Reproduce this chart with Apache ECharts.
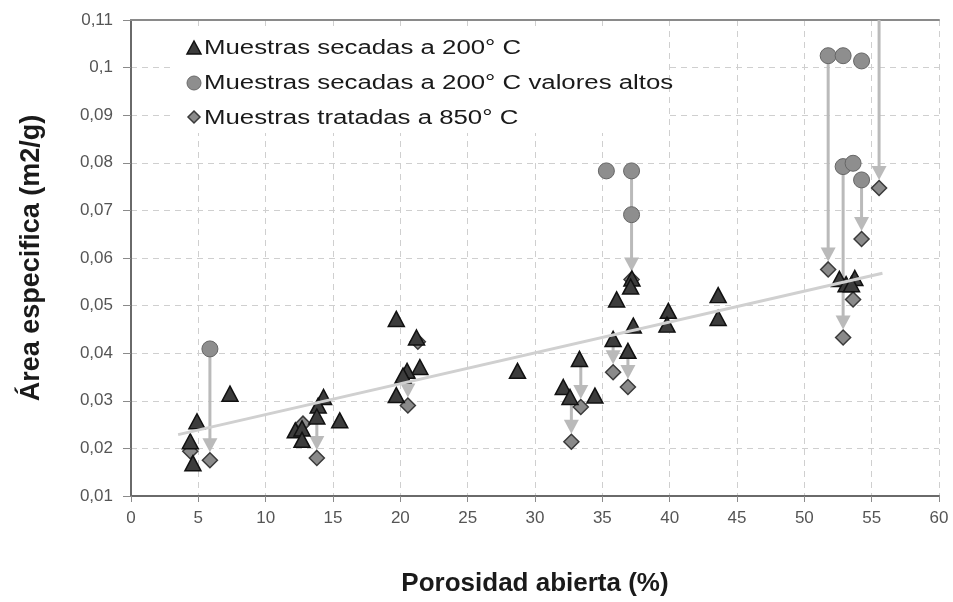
<!DOCTYPE html>
<html>
<head>
<meta charset="utf-8">
<script src="https://cdn.jsdelivr.net/npm/echarts@6/dist/echarts.min.js"></script>
<style>
  html, body { margin: 0; padding: 0; background: #fff; }
  #chart { width: 953px; height: 602px; }
</style>
</head>
<body>
<div id="chart"></div>
<script>
// Muestras secadas a 200 °C
const secadasX = [4.9, 4.4, 4.6, 7.35, 14.3, 13.9, 13.8, 15.5, 12.2, 12.7, 12.7, 19.7, 21.2, 21.45, 20.5, 20.2, 19.7, 28.7, 33.3, 32.1, 32.6, 34.45, 35.8, 37.3, 36.9, 36.06, 37.2, 37.1, 39.9, 39.8, 43.6, 43.6, 52.6, 53.75, 53.1, 53.5];
const secadasY = [0.0257, 0.0215, 0.0169, 0.0315, 0.0308, 0.029, 0.0267, 0.0259, 0.0238, 0.0242, 0.0218, 0.0472, 0.0433, 0.0371, 0.0363, 0.0353, 0.0312, 0.0363, 0.0388, 0.0329, 0.0308, 0.0311, 0.043, 0.0458, 0.0405, 0.0513, 0.0557, 0.054, 0.0489, 0.046, 0.0522, 0.0474, 0.0556, 0.0558, 0.0545, 0.0545];

// Muestras secadas a 200 °C, valores altos
const altosX = [5.86, 35.3, 37.17, 37.17, 51.77, 52.88, 54.25, 52.88, 53.62, 54.25];
const altosY = [0.0409, 0.0783, 0.0783, 0.0691, 0.1025, 0.1025, 0.1014, 0.0792, 0.0799, 0.0764];

// Muestras tratadas a 850 °C
const tratadasX = [4.4, 5.86, 12.77, 13.8, 21.3, 20.56, 33.4, 32.7, 35.8, 36.9, 37.17, 51.77, 52.88, 54.25, 53.62, 55.55];
const tratadasY = [0.0194, 0.0175, 0.0252, 0.018, 0.0424, 0.029, 0.0287, 0.0214, 0.036, 0.0329, 0.0555, 0.0576, 0.0433, 0.064, 0.0513, 0.0747];

// Flechas: paso de la muestra secada a la tratada
const flechaX     = [5.86, 13.8, 20.56, 33.4, 32.7, 35.8, 36.9, 37.17, 51.77, 52.88, 54.25, 55.55];
const flechaDesde = [0.0409, 0.0267, 0.0363, 0.0388, 0.0308, 0.043, 0.0405, 0.0783, 0.1025, 0.0792, 0.0764, 0.11];
const flechaHasta = [0.0175, 0.018, 0.029, 0.0287, 0.0214, 0.036, 0.0329, 0.0555, 0.0576, 0.0433, 0.064, 0.0747];

// Recta de tendencia
const tendenciaX = [3.5, 55.8];
const tendenciaY = [0.0229, 0.0568];

// Ejes
const xMin = 0, xMax = 60, xStep = 5;
const yMin = 0.01, yMax = 0.11, yStep = 0.01;

const legendItems = [
  'Muestras secadas a 200° C',
  'Muestras secadas a 200° C valores altos',
  'Muestras tratadas a 850° C'
];

const zip = (xs, ys) => xs.map((x, i) => [x, ys[i]]);
const flechas = flechaX.map((x, i) => [x, flechaDesde[i], flechaHasta[i]]);

const chart = echarts.init(document.getElementById('chart'), null, { renderer: 'canvas' });

const arrowColor = '#bababa';
const gridDash = { color: '#cfcfcf', width: 1, type: [6, 5] };

const option = {
  animation: false,
  backgroundColor: '#fff',
  grid: { left: 131, right: 14, top: 20, bottom: 104 },
  xAxis: [{
    type: 'value', min: xMin, max: xMax, interval: xStep,
    name: 'Porosidad abierta (%)', nameLocation: 'middle', nameGap: 75,
    nameTextStyle: { fontFamily: 'Liberation Sans', fontWeight: 'bold', fontSize: 26, color: '#1a1a1a' },
    axisLine: { show: true, lineStyle: { color: '#6a6a6a', width: 2 } },
    axisTick: { show: true, length: 6, lineStyle: { color: '#8a8a8a' } },
    axisLabel: { margin: 14, fontFamily: 'Liberation Sans Narrow, Liberation Sans', fontSize: 17, color: '#555' },
    splitLine: { show: true, lineStyle: gridDash }
  }, {
    type: 'value', min: xMin, max: xMax, position: 'top',
    axisLine: { show: true, lineStyle: { color: '#8a8a8a', width: 2 } },
    axisTick: { show: false }, axisLabel: { show: false }, splitLine: { show: false }
  }],
  yAxis: [{
    type: 'value', min: yMin, max: yMax, interval: yStep,
    name: 'Área especifica (m2/g)', nameLocation: 'middle', nameGap: 86,
    nameTextStyle: { fontFamily: 'Liberation Sans', fontWeight: 'bold', fontSize: 27, color: '#1a1a1a' },
    axisLine: { show: true, lineStyle: { color: '#6a6a6a', width: 2 } },
    axisTick: { show: true, length: 8, lineStyle: { color: '#8a8a8a' } },
    axisLabel: {
      margin: 18, fontFamily: 'Liberation Sans Narrow, Liberation Sans', fontSize: 17, color: '#555',
      formatter: v => String(Math.round(v * 100) / 100).replace('.', ',')
    },
    splitLine: { show: true, lineStyle: gridDash }
  }],
  graphic: [
    { type: 'rect', left: 175, top: 31, shape: { width: 490, height: 102 }, style: { fill: '#fff' }, z: 1 },
    { type: 'polygon', shape: { points: [[187, 54], [201, 54], [194, 41]] }, style: { fill: '#3c3c3c', stroke: '#111', lineWidth: 1.5 }, z: 5 },
    { type: 'circle', shape: { cx: 194, cy: 83, r: 7 }, style: { fill: '#8e8e8e', stroke: '#6a6a6a', lineWidth: 1 }, z: 5 },
    { type: 'polygon', shape: { points: [[194, 111], [200, 117], [194, 123], [188, 117]] }, style: { fill: '#8a8a8a', stroke: '#3a3a3a', lineWidth: 1.5 }, z: 5 },
    ...legendItems.map((t, i) => ({
      type: 'text', x: 204, y: 48 + i * 35, scaleX: 1.29, z: 5,
      style: { text: t, font: '20px "Liberation Sans", Arial, sans-serif', fill: '#1a1a1a', verticalAlign: 'middle', align: 'left' }
    }))
  ],
  series: [
    {
      name: 'Flechas', type: 'custom', z: 2, silent: true,
      encode: { x: 0, y: [1, 2] },
      data: flechas,
      renderItem: (params, api) => {
        const x = api.value(0);
        const p0 = api.coord([x, api.value(1)]);
        const p1 = api.coord([x, api.value(2)]);
        const tip = p1[1] - 8, headH = 14, headW = 7.5;
        return {
          type: 'group',
          children: [
            { type: 'line', shape: { x1: p0[0], y1: p0[1], x2: p1[0], y2: tip - headH + 1 }, style: { stroke: arrowColor, lineWidth: 3 } },
            { type: 'polygon', shape: { points: [[p1[0] - headW, tip - headH], [p1[0] + headW, tip - headH], [p1[0], tip]] }, style: { fill: arrowColor } }
          ]
        };
      }
    },
    {
      name: legendItems[2], type: 'scatter', z: 3,
      symbol: 'diamond', symbolSize: 15,
      itemStyle: { color: '#8a8a8a', borderColor: '#3a3a3a', borderWidth: 1.5, opacity: 1 },
      data: zip(tratadasX, tratadasY)
    },
    {
      name: legendItems[1], type: 'scatter', z: 4,
      symbol: 'circle', symbolSize: 16,
      itemStyle: { color: '#8e8e8e', borderColor: '#666', borderWidth: 1, opacity: 1 },
      data: zip(altosX, altosY)
    },
    {
      name: legendItems[0], type: 'scatter', z: 5,
      symbol: 'triangle', symbolSize: [16, 15],
      itemStyle: { color: '#3c3c3c', borderColor: '#111', borderWidth: 1.5, opacity: 1 },
      data: zip(secadasX, secadasY)
    },
    {
      name: 'Tendencia', type: 'line', z: 6, silent: true,
      symbol: 'none',
      lineStyle: { color: '#d0d0d0', width: 3 },
      data: zip(tendenciaX, tendenciaY)
    }
  ]
};

chart.setOption(option);
</script>
</body>
</html>
